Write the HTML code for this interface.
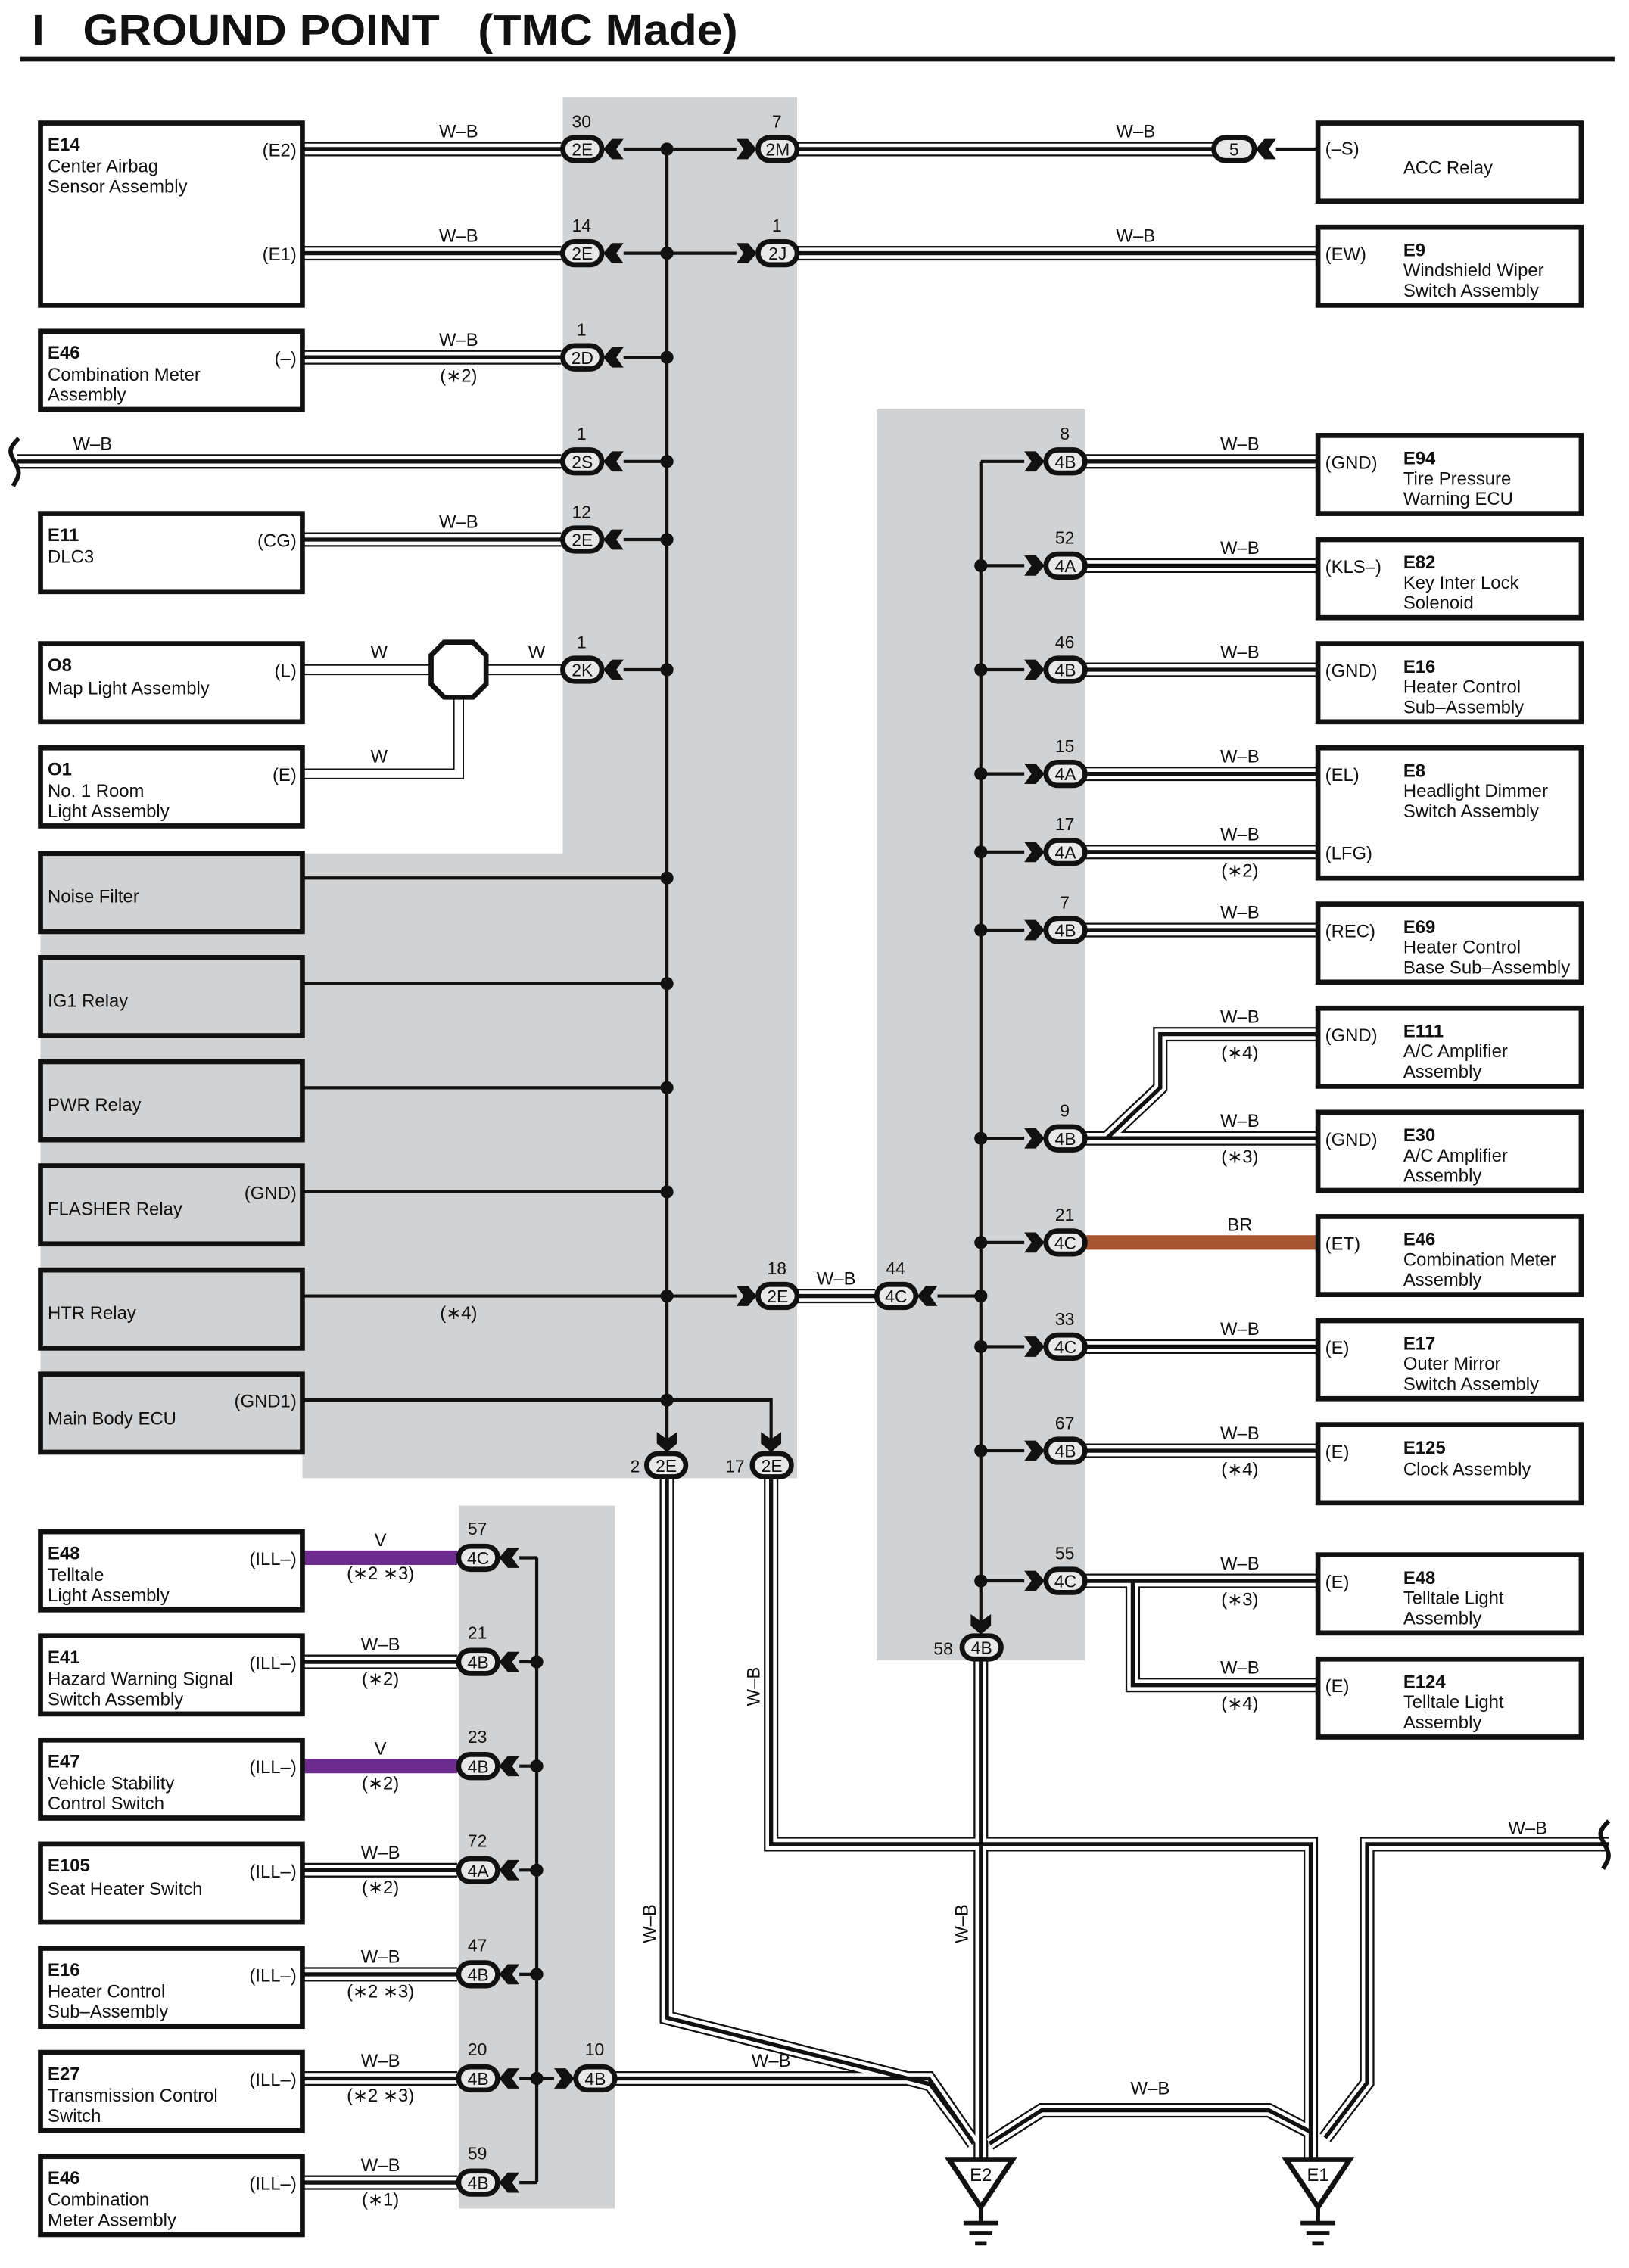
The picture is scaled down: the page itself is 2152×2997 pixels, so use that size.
<!DOCTYPE html>
<html><head><meta charset="utf-8"><style>
html,body{margin:0;padding:0;background:#fff}
svg{display:block}
text{font-family:"Liberation Sans",sans-serif;font-size:12.5px;fill:#111}
.b{font-weight:bold}
.box{fill:#fff;stroke:#111;stroke-width:3.5}
.gbox{fill:#d1d2d4;stroke:#111;stroke-width:3.5}
.o{fill:none;stroke:#111;stroke-width:10}
.m{fill:none;stroke:#fff;stroke-width:7.6}
.c{fill:none;stroke:#111;stroke-width:2.8}
.wo{fill:none;stroke:#111;stroke-width:7.5}
.wm{fill:none;stroke:#fff;stroke-width:5.5}
.t{fill:none;stroke:#111;stroke-width:2.2}
.pill{fill:#e8e8e8;stroke:#111;stroke-width:3.5}
.ar{fill:#111}
.ct{font-size:12px;text-anchor:middle}
.lb{text-anchor:middle}
.r{text-anchor:end}
</style></head><body>
<svg width="2152" height="2997" viewBox="0 0 1126 1568" xmlns="http://www.w3.org/2000/svg">
<text x="22" y="31" class="b" style="font-size:30px;white-space:pre" xml:space="preserve" textLength="488" lengthAdjust="spacingAndGlyphs">I   GROUND POINT   (TMC Made)</text>
<rect x="14" y="39" width="1102" height="3.5" fill="#111"/>

<rect x="389" y="67" width="162" height="955" fill="#d1d2d4"/>
<rect x="28" y="590" width="362" height="414" fill="#d1d2d4"/>
<rect x="209" y="1000" width="181" height="22" fill="#d1d2d4"/>
<rect x="606" y="283" width="144" height="865" fill="#d1d2d4"/>
<rect x="317" y="1041" width="108" height="486" fill="#d1d2d4"/>

<defs>
<path id="wb" d="M209 103H388M209 175H388M209 247H388M12 319H388M209 373H388M551 103H839M551 175H911M750 319H911M750 391H911M750 463H911M750 535H911M750 589H911M750 643H911M750 787H911M765 787L802 752V715H911M750 931H911M750 1003H911M750 1093H911M783 1093V1165H911M551 896H605M209 1149H316M209 1293H316M209 1365H316M209 1437H316M209 1509H316M425 1437H642L673 1482M461 1022V1395L643 1441L672 1480M533 1022V1275H906V1492M1112 1275H945V1440L916 1478M684 1482L720 1459H877L906 1474M678 1148V1492"/>
</defs>
<use href="#wb" class="o"/>
<use href="#wb" class="m"/>
<use href="#wb" class="c"/>
<path d="M209 463H298M336 463H388M209 535H317V482" class="wo"/>
<path d="M209 463H298M336 463H388M209 535H317V482" class="wm"/>
<polygon points="307,444 327,444 336,453 336,473 327,482 307,482 298,473 298,453" fill="#fff" stroke="#111" stroke-width="3.5"/>
<path d="M750 859H911" stroke="#a65530" stroke-width="10" fill="none"/>
<path d="M209 1077H316M209 1221H316" stroke="#6f2c8f" stroke-width="10" fill="none"/>

<path class="t" d="M461 103V1000M431 103H509M431 175H509M431 247H461M431 319H461M431 373H461M431 463H461M209 607H461M209 680H461M209 752H461M209 824H461M209 896H509M209 968H533V1000M882 103H911
M678 319V1126M678 319H708M678 391H708M678 463H708M678 535H708M678 589H708M678 643H708M678 787H708M678 859H708M678 931H708M678 1003H708M678 1093H708M648 896H678
M371 1077V1509M359 1077H371M359 1149H371M359 1221H371M359 1293H371M359 1365H371M359 1437H383M359 1509H371"/>
<g fill="#111">
<circle cx="461" cy="103" r="4.5"/><circle cx="461" cy="175" r="4.5"/><circle cx="461" cy="247" r="4.5"/><circle cx="461" cy="319" r="4.5"/><circle cx="461" cy="373" r="4.5"/><circle cx="461" cy="463" r="4.5"/><circle cx="461" cy="607" r="4.5"/><circle cx="461" cy="680" r="4.5"/><circle cx="461" cy="752" r="4.5"/><circle cx="461" cy="824" r="4.5"/><circle cx="461" cy="896" r="4.5"/><circle cx="461" cy="968" r="4.5"/>
<circle cx="678" cy="391" r="4.5"/><circle cx="678" cy="463" r="4.5"/><circle cx="678" cy="535" r="4.5"/><circle cx="678" cy="589" r="4.5"/><circle cx="678" cy="643" r="4.5"/><circle cx="678" cy="787" r="4.5"/><circle cx="678" cy="859" r="4.5"/><circle cx="678" cy="896" r="4.5"/><circle cx="678" cy="931" r="4.5"/><circle cx="678" cy="1003" r="4.5"/><circle cx="678" cy="1093" r="4.5"/>
<circle cx="371" cy="1149" r="4.5"/><circle cx="371" cy="1221" r="4.5"/><circle cx="371" cy="1293" r="4.5"/><circle cx="371" cy="1365" r="4.5"/><circle cx="371" cy="1437" r="4.5"/>
</g>

<defs>
<polygon id="al" points="0,0 6,-7 14,-7 9,0 14,7 6,7"/>
<polygon id="arr" points="0,0 -6,-7 -14,-7 -9,0 -14,7 -6,7"/>
<polygon id="ad" points="0,0 -7,-6 -7,-14 0,-9 7,-14 7,-6"/>
</defs>
<g class="ar">
<use href="#al" x="417" y="103"/><use href="#al" x="417" y="175"/><use href="#al" x="417" y="247"/><use href="#al" x="417" y="319"/><use href="#al" x="417" y="373"/><use href="#al" x="417" y="463"/>
<use href="#arr" x="523" y="103"/><use href="#arr" x="523" y="175"/><use href="#arr" x="523" y="896"/>
<use href="#al" x="868" y="103"/><use href="#al" x="634" y="896"/>
<use href="#arr" x="722" y="319"/><use href="#arr" x="722" y="391"/><use href="#arr" x="722" y="463"/><use href="#arr" x="722" y="535"/><use href="#arr" x="722" y="589"/><use href="#arr" x="722" y="643"/><use href="#arr" x="722" y="787"/><use href="#arr" x="722" y="859"/><use href="#arr" x="722" y="931"/><use href="#arr" x="722" y="1003"/><use href="#arr" x="722" y="1093"/>
<use href="#ad" x="461" y="1004"/><use href="#ad" x="533" y="1004"/><use href="#ad" x="678" y="1130"/>
<use href="#al" x="345" y="1077"/><use href="#al" x="345" y="1149"/><use href="#al" x="345" y="1221"/><use href="#al" x="345" y="1293"/><use href="#al" x="345" y="1365"/><use href="#al" x="345" y="1437"/><use href="#al" x="345" y="1509"/>
<use href="#arr" x="397" y="1437"/>
</g>

<g>
<rect class="pill" x="389" y="95" width="27" height="16" rx="8"/><text class="ct" x="402.5" y="107.5">2E</text><text class="ct" x="402" y="88">30</text>
<rect class="pill" x="389" y="167" width="27" height="16" rx="8"/><text class="ct" x="402.5" y="179.5">2E</text><text class="ct" x="402" y="160">14</text>
<rect class="pill" x="389" y="239" width="27" height="16" rx="8"/><text class="ct" x="402.5" y="251.5">2D</text><text class="ct" x="402" y="232">1</text>
<rect class="pill" x="389" y="311" width="27" height="16" rx="8"/><text class="ct" x="402.5" y="323.5">2S</text><text class="ct" x="402" y="304">1</text>
<rect class="pill" x="389" y="365" width="27" height="16" rx="8"/><text class="ct" x="402.5" y="377.5">2E</text><text class="ct" x="402" y="358">12</text>
<rect class="pill" x="389" y="455" width="27" height="16" rx="8"/><text class="ct" x="402.5" y="467.5">2K</text><text class="ct" x="402" y="448">1</text>
<rect class="pill" x="524" y="95" width="27" height="16" rx="8"/><text class="ct" x="537.5" y="107.5">2M</text><text class="ct" x="537" y="88">7</text>
<rect class="pill" x="524" y="167" width="27" height="16" rx="8"/><text class="ct" x="537.5" y="179.5">2J</text><text class="ct" x="537" y="160">1</text>
<rect class="pill" x="524" y="888" width="27" height="16" rx="8"/><text class="ct" x="537.5" y="900.5">2E</text><text class="ct" x="537" y="881">18</text>
<rect class="pill" x="839" y="95" width="28" height="16" rx="8"/><text class="ct" x="853" y="107.5">5</text>
<rect class="pill" x="606" y="888" width="27" height="16" rx="8"/><text class="ct" x="619.5" y="900.5">4C</text><text class="ct" x="619" y="881">44</text>
<rect class="pill" x="447" y="1005" width="27" height="16" rx="8"/><text class="ct" x="460.5" y="1017.5">2E</text><text class="ct" x="439" y="1018">2</text>
<rect class="pill" x="520" y="1005" width="27" height="16" rx="8"/><text class="ct" x="533.5" y="1017.5">2E</text><text class="ct" x="508" y="1018">17</text>
<rect class="pill" x="665" y="1131" width="27" height="16" rx="8"/><text class="ct" x="678.5" y="1143.5">4B</text><text class="ct" x="652" y="1144">58</text>
</g>
<g>
<rect class="pill" x="723" y="311" width="27" height="16" rx="8"/><text class="ct" x="736.5" y="323.5">4B</text><text class="ct" x="736" y="304">8</text>
<rect class="pill" x="723" y="383" width="27" height="16" rx="8"/><text class="ct" x="736.5" y="395.5">4A</text><text class="ct" x="736" y="376">52</text>
<rect class="pill" x="723" y="455" width="27" height="16" rx="8"/><text class="ct" x="736.5" y="467.5">4B</text><text class="ct" x="736" y="448">46</text>
<rect class="pill" x="723" y="527" width="27" height="16" rx="8"/><text class="ct" x="736.5" y="539.5">4A</text><text class="ct" x="736" y="520">15</text>
<rect class="pill" x="723" y="581" width="27" height="16" rx="8"/><text class="ct" x="736.5" y="593.5">4A</text><text class="ct" x="736" y="574">17</text>
<rect class="pill" x="723" y="635" width="27" height="16" rx="8"/><text class="ct" x="736.5" y="647.5">4B</text><text class="ct" x="736" y="628">7</text>
<rect class="pill" x="723" y="779" width="27" height="16" rx="8"/><text class="ct" x="736.5" y="791.5">4B</text><text class="ct" x="736" y="772">9</text>
<rect class="pill" x="723" y="851" width="27" height="16" rx="8"/><text class="ct" x="736.5" y="863.5">4C</text><text class="ct" x="736" y="844">21</text>
<rect class="pill" x="723" y="923" width="27" height="16" rx="8"/><text class="ct" x="736.5" y="935.5">4C</text><text class="ct" x="736" y="916">33</text>
<rect class="pill" x="723" y="995" width="27" height="16" rx="8"/><text class="ct" x="736.5" y="1007.5">4B</text><text class="ct" x="736" y="988">67</text>
<rect class="pill" x="723" y="1085" width="27" height="16" rx="8"/><text class="ct" x="736.5" y="1097.5">4C</text><text class="ct" x="736" y="1078">55</text>
</g>
<g>
<rect class="pill" x="317" y="1069" width="27" height="16" rx="8"/><text class="ct" x="330.5" y="1081.5">4C</text><text class="ct" x="330" y="1061">57</text>
<rect class="pill" x="317" y="1141" width="27" height="16" rx="8"/><text class="ct" x="330.5" y="1153.5">4B</text><text class="ct" x="330" y="1133">21</text>
<rect class="pill" x="317" y="1213" width="27" height="16" rx="8"/><text class="ct" x="330.5" y="1225.5">4B</text><text class="ct" x="330" y="1205">23</text>
<rect class="pill" x="317" y="1285" width="27" height="16" rx="8"/><text class="ct" x="330.5" y="1297.5">4A</text><text class="ct" x="330" y="1277">72</text>
<rect class="pill" x="317" y="1357" width="27" height="16" rx="8"/><text class="ct" x="330.5" y="1369.5">4B</text><text class="ct" x="330" y="1349">47</text>
<rect class="pill" x="317" y="1429" width="27" height="16" rx="8"/><text class="ct" x="330.5" y="1441.5">4B</text><text class="ct" x="330" y="1421">20</text>
<rect class="pill" x="317" y="1501" width="27" height="16" rx="8"/><text class="ct" x="330.5" y="1513.5">4B</text><text class="ct" x="330" y="1493">59</text>
<rect class="pill" x="398" y="1429" width="27" height="16" rx="8"/><text class="ct" x="411.5" y="1441.5">4B</text><text class="ct" x="411" y="1421">10</text>
</g>

<g class="lb">
<text x="317" y="95">W–B</text><text x="317" y="167">W–B</text><text x="317" y="239">W–B</text><text x="317" y="264">(∗2)</text>
<text x="64" y="311">W–B</text><text x="317" y="365">W–B</text>
<text x="262" y="455">W</text><text x="371" y="455">W</text><text x="262" y="527">W</text>
<text x="317" y="912">(∗4)</text>
<text x="785" y="95">W–B</text><text x="785" y="167">W–B</text>
<text x="857" y="311">W–B</text><text x="857" y="383">W–B</text><text x="857" y="455">W–B</text><text x="857" y="527">W–B</text>
<text x="857" y="581">W–B</text><text x="857" y="606">(∗2)</text><text x="857" y="635">W–B</text>
<text x="857" y="707">W–B</text><text x="857" y="732">(∗4)</text><text x="857" y="779">W–B</text><text x="857" y="804">(∗3)</text>
<text x="857" y="851">BR</text><text x="857" y="923">W–B</text><text x="857" y="995">W–B</text><text x="857" y="1020">(∗4)</text>
<text x="857" y="1085">W–B</text><text x="857" y="1110">(∗3)</text><text x="857" y="1157">W–B</text><text x="857" y="1182">(∗4)</text>
<text x="578" y="888">W–B</text>
<text x="263" y="1069">V</text><text x="263" y="1092">(∗2 ∗3)</text>
<text x="263" y="1141">W–B</text><text x="263" y="1165">(∗2)</text>
<text x="263" y="1213">V</text><text x="263" y="1237">(∗2)</text>
<text x="263" y="1285">W–B</text><text x="263" y="1309">(∗2)</text>
<text x="263" y="1357">W–B</text><text x="263" y="1381">(∗2 ∗3)</text>
<text x="263" y="1429">W–B</text><text x="263" y="1453">(∗2 ∗3)</text>
<text x="263" y="1501">W–B</text><text x="263" y="1525">(∗1)</text>
<text x="533" y="1429">W–B</text><text x="795" y="1448">W–B</text><text x="1056" y="1268">W–B</text>
<text transform="translate(525,1166) rotate(-90)">W–B</text>
<text transform="translate(453,1330) rotate(-90)">W–B</text>
<text transform="translate(669,1330) rotate(-90)">W–B</text>
</g>
<path d="M13 303C6 310 6 312 10 319S14 328 9 336" fill="none" stroke="#111" stroke-width="3"/>
<path d="M1112 1259C1105 1266 1105 1268 1109 1275S1113 1284 1108 1292" fill="none" stroke="#111" stroke-width="3"/>

<rect class="box" x="28" y="85" width="181" height="126"/>
<text x="33" y="104" class="b">E14</text><text x="33" y="119">Center Airbag</text><text x="33" y="133">Sensor Assembly</text>
<text x="205" y="108" class="r">(E2)</text><text x="205" y="180" class="r">(E1)</text>
<rect class="box" x="28" y="229" width="181" height="54"/>
<text x="33" y="248" class="b">E46</text><text x="33" y="263">Combination Meter</text><text x="33" y="277">Assembly</text><text x="205" y="252" class="r">(–)</text>
<rect class="box" x="28" y="355" width="181" height="54"/>
<text x="33" y="374" class="b">E11</text><text x="33" y="389">DLC3</text><text x="205" y="378" class="r">(CG)</text>
<rect class="box" x="28" y="445" width="181" height="54"/>
<text x="33" y="464" class="b">O8</text><text x="33" y="480">Map Light Assembly</text><text x="205" y="468" class="r">(L)</text>
<rect class="box" x="28" y="517" width="181" height="54"/>
<text x="33" y="536" class="b">O1</text><text x="33" y="551">No. 1 Room</text><text x="33" y="565">Light Assembly</text><text x="205" y="540" class="r">(E)</text>
<rect class="gbox" x="28" y="590" width="181" height="54"/><text x="33" y="624">Noise Filter</text>
<rect class="gbox" x="28" y="662" width="181" height="54"/><text x="33" y="696">IG1 Relay</text>
<rect class="gbox" x="28" y="734" width="181" height="54"/><text x="33" y="768">PWR Relay</text>
<rect class="gbox" x="28" y="806" width="181" height="54"/><text x="33" y="840">FLASHER Relay</text><text x="205" y="829" class="r">(GND)</text>
<rect class="gbox" x="28" y="878" width="181" height="54"/><text x="33" y="912">HTR Relay</text>
<rect class="gbox" x="28" y="950" width="181" height="54"/><text x="33" y="985">Main Body ECU</text><text x="205" y="973" class="r">(GND1)</text>

<rect class="box" x="911" y="85" width="182" height="54"/><text x="916" y="107">(–S)</text><text x="970" y="120">ACC Relay</text>
<rect class="box" x="911" y="157" width="182" height="54"/><text x="916" y="180">(EW)</text><text x="970" y="177" class="b">E9</text><text x="970" y="191">Windshield Wiper</text><text x="970" y="205">Switch Assembly</text>
<rect class="box" x="911" y="301" width="182" height="54"/><text x="916" y="324">(GND)</text><text x="970" y="321" class="b">E94</text><text x="970" y="335">Tire Pressure</text><text x="970" y="349">Warning ECU</text>
<rect class="box" x="911" y="373" width="182" height="54"/><text x="916" y="396">(KLS–)</text><text x="970" y="393" class="b">E82</text><text x="970" y="407">Key Inter Lock</text><text x="970" y="421">Solenoid</text>
<rect class="box" x="911" y="445" width="182" height="54"/><text x="916" y="468">(GND)</text><text x="970" y="465" class="b">E16</text><text x="970" y="479">Heater Control</text><text x="970" y="493">Sub–Assembly</text>
<rect class="box" x="911" y="517" width="182" height="90"/><text x="916" y="540">(EL)</text><text x="916" y="594">(LFG)</text><text x="970" y="537" class="b">E8</text><text x="970" y="551">Headlight Dimmer</text><text x="970" y="565">Switch Assembly</text>
<rect class="box" x="911" y="625" width="182" height="54"/><text x="916" y="648">(REC)</text><text x="970" y="645" class="b">E69</text><text x="970" y="659">Heater Control</text><text x="970" y="673">Base Sub–Assembly</text>
<rect class="box" x="911" y="697" width="182" height="54"/><text x="916" y="720">(GND)</text><text x="970" y="717" class="b">E111</text><text x="970" y="731">A/C Amplifier</text><text x="970" y="745">Assembly</text>
<rect class="box" x="911" y="769" width="182" height="54"/><text x="916" y="792">(GND)</text><text x="970" y="789" class="b">E30</text><text x="970" y="803">A/C Amplifier</text><text x="970" y="817">Assembly</text>
<rect class="box" x="911" y="841" width="182" height="54"/><text x="916" y="864">(ET)</text><text x="970" y="861" class="b">E46</text><text x="970" y="875">Combination Meter</text><text x="970" y="889">Assembly</text>
<rect class="box" x="911" y="913" width="182" height="54"/><text x="916" y="936">(E)</text><text x="970" y="933" class="b">E17</text><text x="970" y="947">Outer Mirror</text><text x="970" y="961">Switch Assembly</text>
<rect class="box" x="911" y="985" width="182" height="54"/><text x="916" y="1008">(E)</text><text x="970" y="1005" class="b">E125</text><text x="970" y="1020">Clock Assembly</text>
<rect class="box" x="911" y="1075" width="182" height="54"/><text x="916" y="1098">(E)</text><text x="970" y="1095" class="b">E48</text><text x="970" y="1109">Telltale Light</text><text x="970" y="1123">Assembly</text>
<rect class="box" x="911" y="1147" width="182" height="54"/><text x="916" y="1170">(E)</text><text x="970" y="1167" class="b">E124</text><text x="970" y="1181">Telltale Light</text><text x="970" y="1195">Assembly</text>

<rect class="box" x="28" y="1059" width="181" height="54"/><text x="33" y="1078" class="b">E48</text><text x="33" y="1093">Telltale</text><text x="33" y="1107">Light Assembly</text><text x="205" y="1082" class="r">(ILL–)</text>
<rect class="box" x="28" y="1131" width="181" height="54"/><text x="33" y="1150" class="b">E41</text><text x="33" y="1165">Hazard Warning Signal</text><text x="33" y="1179">Switch Assembly</text><text x="205" y="1154" class="r">(ILL–)</text>
<rect class="box" x="28" y="1203" width="181" height="54"/><text x="33" y="1222" class="b">E47</text><text x="33" y="1237">Vehicle Stability</text><text x="33" y="1251">Control Switch</text><text x="205" y="1226" class="r">(ILL–)</text>
<rect class="box" x="28" y="1275" width="181" height="54"/><text x="33" y="1294" class="b">E105</text><text x="33" y="1310">Seat Heater Switch</text><text x="205" y="1298" class="r">(ILL–)</text>
<rect class="box" x="28" y="1347" width="181" height="54"/><text x="33" y="1366" class="b">E16</text><text x="33" y="1381">Heater Control</text><text x="33" y="1395">Sub–Assembly</text><text x="205" y="1370" class="r">(ILL–)</text>
<rect class="box" x="28" y="1419" width="181" height="54"/><text x="33" y="1438" class="b">E27</text><text x="33" y="1453">Transmission Control</text><text x="33" y="1467">Switch</text><text x="205" y="1442" class="r">(ILL–)</text>
<rect class="box" x="28" y="1491" width="181" height="54"/><text x="33" y="1510" class="b">E46</text><text x="33" y="1525">Combination</text><text x="33" y="1539">Meter Assembly</text><text x="205" y="1514" class="r">(ILL–)</text>

<g stroke="#111" stroke-width="3.5" fill="#fff">
<polygon points="656,1493 700,1493 678,1526"/>
<polygon points="889,1493 933,1493 911,1526"/>
</g>
<g stroke="#111" stroke-width="3" fill="none">
<path d="M678 1526V1536M666 1537H690M670 1544H686M674 1551H682"/>
<path d="M911 1526V1536M899 1537H923M903 1544H919M907 1551H915"/>
</g>
<text x="678" y="1508" class="lb">E2</text>
<text x="911" y="1508" class="lb">E1</text>
</svg>
</body></html>
